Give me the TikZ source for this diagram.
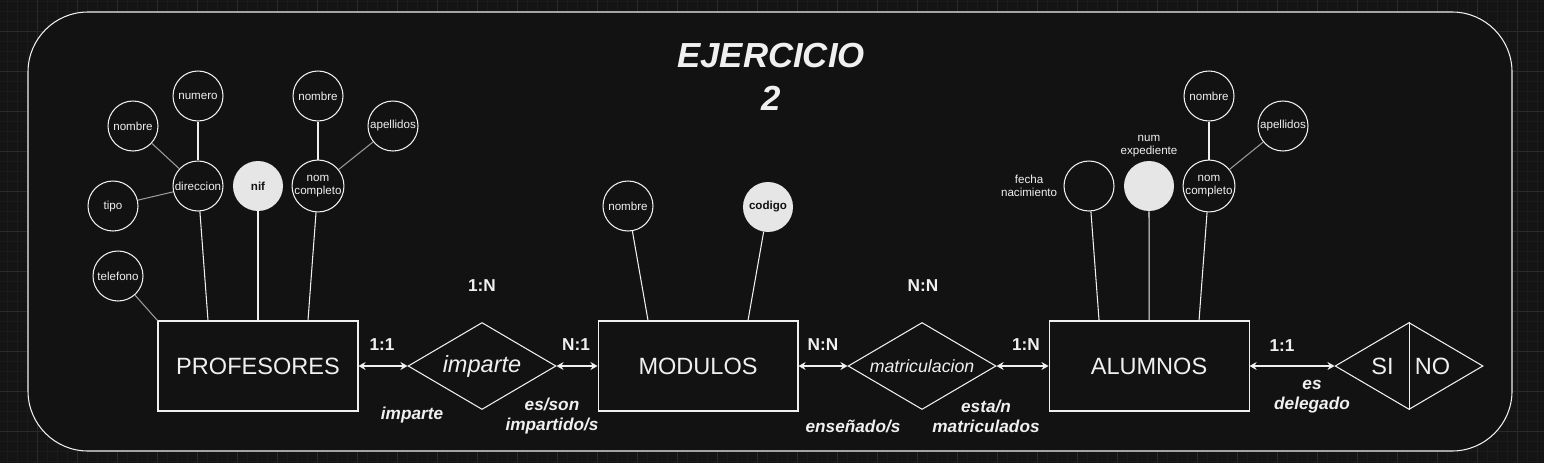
\documentclass[tikz,border=0pt]{standalone}
\usepackage{fontspec}
\setmainfont{Liberation Sans}
\usetikzlibrary{shapes.geometric,arrows.meta,positioning}

\definecolor{fondo}{HTML}{121212}
\definecolor{fondofuera}{HTML}{141414}
\definecolor{rejilla}{HTML}{2A2A2A}
\definecolor{rejillafina}{HTML}{1B1B1B}
\definecolor{trazo}{HTML}{F0F0F0}
\definecolor{gris}{HTML}{9A9A9A}
\definecolor{clave}{HTML}{E6E6E6}

\begin{document}
\begin{tikzpicture}[
    x=0.02cm, y=-0.02cm,
    node distance=1cm and 1cm,
    ent/.style={rectangle, draw=trazo, line width=0.6pt, fill=fondo, text=trazo, minimum width=4cm, minimum height=1.8cm, font=\fontsize{13.4}{16}\selectfont},
    rel/.style={diamond, aspect=1.7, draw=trazo, line width=0.6pt, inner sep=0pt, minimum width=2.96cm, minimum height=1.74cm, text=trazo, font=\fontsize{13.4}{16}\selectfont\itshape},
    attr/.style={circle, draw=trazo, line width=0.6pt, minimum size=1cm, inner sep=0pt, align=center, text=trazo, font=\fontsize{6.6}{7.6}\selectfont},
    keyattr/.style={circle, fill=clave, minimum size=1cm, inner sep=0pt, text=fondo, font=\fontsize{6.6}{7.6}\selectfont\bfseries},
    attrtxt/.style={inner sep=0pt, align=center, text=trazo, font=\fontsize{6.6}{7.6}\selectfont},
    card/.style={text=trazo, font=\fontsize{9.8}{11.3}\selectfont\bfseries},
    role/.style={text=trazo, align=center, font=\fontsize{9.8}{11.3}\selectfont\bfseries\itshape},
    arr/.style={{Stealth[length=4pt,width=4.5pt]}-{Stealth[length=4pt,width=4.5pt]}, line width=0.6pt, draw=trazo},
    lnk/.style={line width=0.6pt, draw=trazo},
    lnkgris/.style={line width=0.6pt, draw=gris}
]
    \useasboundingbox (0,0) rectangle (1544,463);

    % fondo con rejilla
    \fill[fondofuera] (0,0) rectangle (1544,463);
    \foreach \gx in {7,17,...,1537} \draw[rejillafina, line width=0.4pt] (\gx,0) -- (\gx,463);
    \foreach \gy in {1,11,...,461} \draw[rejillafina, line width=0.4pt] (0,\gy) -- (1544,\gy);
    \foreach \gx in {37,77,...,1517} \draw[rejilla, line width=0.5pt] (\gx,0) -- (\gx,463);
    \foreach \gy in {31,71,...,431} \draw[rejilla, line width=0.5pt] (0,\gy) -- (1544,\gy);
    \draw[trazo, line width=0.6pt, fill=fondo, rounded corners=1.2cm] (28,12) rectangle (1512,451);

    \node[text=trazo, align=center, font=\fontsize{19.8}{24.4}\selectfont\bfseries\itshape] (titulo) at (771,77) {EJERCICIO\\2};

    % entidades y relaciones
    \node[ent] (prof) at (258,366) {PROFESORES};
    \node[rel, right=0.98cm of prof] (imparte) {imparte};
    \node[ent, right=0.82cm of imparte] (modulos) {MODULOS};
    \node[rel, right=0.98cm of modulos] (matric) {\fontsize{10.1}{12}\selectfont matriculacion};
    \node[ent, right=1.04cm of matric] (alumnos) {ALUMNOS};
    \node[rel, right=1.7cm of alumnos] (sino) {};
    \draw[lnk] (sino.north) -- (sino.south);
    \node[text=trazo, font=\fontsize{13.4}{16}\selectfont] (si) at ([xshift=-0.53cm]sino.center) {SI};
    \node[text=trazo, font=\fontsize{13.4}{16}\selectfont] (no) at ([xshift=0.47cm]sino.center) {NO};

    \draw[arr] (prof) -- (imparte);
    \draw[arr] (imparte) -- (modulos);
    \draw[arr] (modulos) -- (matric);
    \draw[arr] (matric) -- (alumnos);
    \draw[arr] (alumnos) -- (sino);

    % atributos de PROFESORES
    \node[attr] (numero) at (198,96) {numero};
    \node[attr] (pnombre) at (133,126) {nombre};
    \node[attr] (direccion) at (198,186) {direccion};
    \node[attr] (tipo) at (113,206) {tipo};
    \node[keyattr] (nif) at (258,186) {nif};
    \node[attr] (pnom) at (318,96) {nombre};
    \node[attr] (papell) at (393,126) {apellidos};
    \node[attr] (pnomcomp) at (318,186) {nom\\completo};
    \node[attr] (telefono) at (118,276) {telefono};

    \draw[lnk] (numero) -- (direccion);
    \draw[lnkgris] (pnombre) -- (direccion);
    \draw[lnkgris] (tipo) -- (direccion);
    \draw[lnk] (pnom) -- (pnomcomp);
    \draw[lnkgris] (papell) -- (pnomcomp);
    \draw[lnk] (direccion) -- ([xshift=-1cm]prof.north);
    \draw[lnk] (nif) -- (prof.north);
    \draw[lnk] (pnomcomp) -- ([xshift=1cm]prof.north);
    \draw[lnkgris] (telefono) -- (prof.north west);

    % atributos de MODULOS
    \node[attr] (mnombre) at (628,206) {nombre};
    \node[keyattr] (codigo) at (768,207) {codigo};
    \draw[lnk] (mnombre) -- ([xshift=-1cm]modulos.north);
    \draw[lnk] (codigo) -- ([xshift=1cm]modulos.north);

    % atributos de ALUMNOS
    \node[attr] (fecha) at (1089,186) {};
    \node[attrtxt, left=0.12cm of fecha] (fechatxt) {fecha\\nacimiento};
    \node[keyattr] (numexp) at (1149,186) {};
    \node[attrtxt, above=0.06cm of numexp] (numexptxt) {num\\expediente};
    \node[attr] (anomcomp) at (1209,186) {nom\\completo};
    \node[attr] (anom) at (1209,96) {nombre};
    \node[attr] (aapell) at (1283,126) {apellidos};

    \draw[lnk] (anom) -- (anomcomp);
    \draw[lnkgris] (aapell) -- (anomcomp);
    \draw[lnk] (fecha) -- ([xshift=-1cm]alumnos.north);
    \draw[lnk] (numexp) -- (alumnos.north);
    \draw[lnk] (anomcomp) -- ([xshift=1cm]alumnos.north);

    % cardinalidades y roles
    \node[card] (c1) at (382,345) {1:1};
    \node[card] (c2) at (482,286) {1:N};
    \node[card] (c3) at (576,345) {N:1};
    \node[card] (c4) at (823,345) {N:N};
    \node[card] (c5) at (923,286) {N:N};
    \node[card] (c6) at (1026,345) {1:N};
    \node[card] (c7) at (1282,346) {1:1};

    \node[role] (r1) at (412,415) {imparte};
    \node[role] (r2) at (552,416) {es/son\\impartido/s};
    \node[role] (r3) at (853,426) {enseñado/s};
    \node[role] (r4) at (986,416) {esta/n\\matriculados};
    \node[role] (r5) at (1312,397) {es\\delegado};
\end{tikzpicture}
\end{document}
